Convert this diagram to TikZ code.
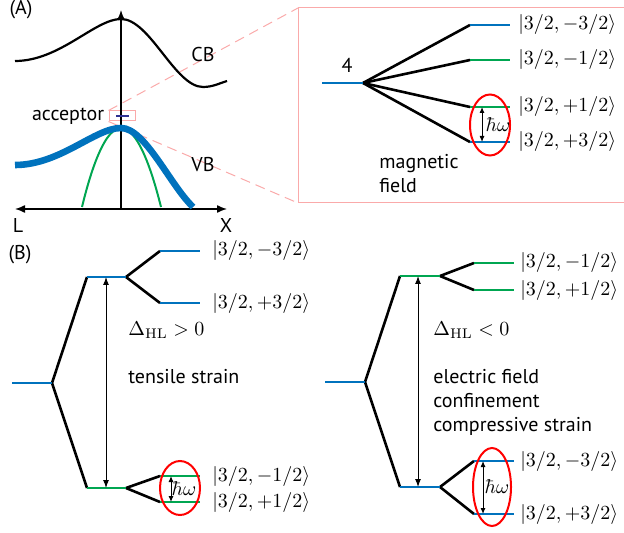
\documentclass[tikz,border=0pt]{standalone}
\usepackage{amsmath}
\usepackage{fontspec}
\newfontfamily\labelfont{PT Sans}
\usetikzlibrary{arrows.meta,positioning}
\definecolor{lhblue}{RGB}{0,114,189}
\definecolor{lhgreen}{RGB}{0,166,81}
\definecolor{zoompink}{RGB}{250,170,170}
\definecolor{accnavy}{RGB}{46,49,146}
\tikzset{
	txt/.style={font=\labelfont, inner sep=1pt},
	ket/.style={inner sep=0pt},
	fan/.style={line width=1.3pt, black},
	lvlb/.style={line width=1.4pt, lhblue},
	lvlg/.style={line width=1.4pt, lhgreen},
	axis/.style={line width=0.7pt},
	gap/.style={{Latex[length=4pt, width=3pt]}-{Latex[length=4pt, width=3pt]}, line width=0.5pt},
	ring/.style={red, line width=1pt},
}

\begin{document}
\begin{tikzpicture}[x=0.5pt, y=-0.5pt]
				\useasboundingbox (0,0) rectangle (624,533);
				% (A) bands
				\node[txt] (la) at (21,10) {(A)};
				\node[draw=zoompink, line width=0.5pt, minimum width=13pt, minimum height=5pt, inner sep=0pt] (acc) at (122,116) {};
				\coordinate (zt) at (298,8);
				\coordinate (zb) at (298,203);
				\draw[zoompink, line width=0.5pt, dash pattern=on 5pt off 3pt]
				(acc.north west) -- (zt)
				(acc.south west) -- (zb);
				\draw[zoompink, line width=0.5pt] (624,8) -- (zt) -- (zb) -- (624,203);
				\coordinate (ol) at (15,209);
				\coordinate (or) at (227,209);
				\coordinate (o) at (121,209);
				\coordinate (ot) at (121,10);
				\draw[axis, {Latex[length=5pt, width=4pt]}-{Latex[length=5pt, width=4pt]}] (ol) -- (or);
				\draw[axis, -{Latex[length=5pt, width=4pt]}] (o) -- (ot);
				\draw[line width=1.1pt] (15,61) .. controls (60,61) and (95,19) .. (121,19)
				.. controls (150,19) and (175,87) .. (203,87) .. controls (213,87) and (220,83) .. (227,81);
				\draw[lhgreen, line width=1pt] (82,207) parabola bend (121,128) (161,207);
				\draw[lhblue, line width=3.3pt] (15,165) .. controls (60,165) and (95,128) .. (121,128)
				.. controls (145,128) and (170,185) .. (193,207);
				\draw[accnavy, line width=1.3pt] ([xshift=-3pt]acc.center) -- ([xshift=3.5pt]acc.center);
				\node[txt, left=1pt of acc] (accl) {acceptor};
				\node[txt] (cb) at (203,55) {CB};
				\node[txt] (vb) at (203,165) {VB};
				\node[txt] (kl) at (18,226) {L};
				\node[txt] (kx) at (226,226) {X};

				% magnetic field splitting
				\coordinate (m0l) at (322,83);
				\coordinate (m0r) at (363,83);
				\foreach \n/\y in {1/25,2/60,3/107,4/142} {
					\coordinate (m\n l) at (470,\y);
					\coordinate (m\n r) at (510,\y);
				}
				\path[fan] (m0r) edge (m1l) edge (m2l) edge (m3l) edge (m4l);
				\draw[lvlb] (m0l) -- (m0r) (m1l) -- (m1r) (m4l) -- (m4r);
				\draw[lvlg] (m2l) -- (m2r) (m3l) -- (m3r);
				\node[txt, above=4pt of m0r, xshift=-8pt] (m4) {4};
				\node[ket, right=4pt of m1r] {$|3/2,-3/2\rangle$};
				\node[ket, right=4pt of m2r] {$|3/2,-1/2\rangle$};
				\node[ket, right=4pt of m3r] {$|3/2,+1/2\rangle$};
				\node[ket, right=4pt of m4r] {$|3/2,+3/2\rangle$};
				\draw[ring] (490,125) ellipse [x radius=20, y radius=30.5];
				\coordinate (mht) at (482,107);
				\coordinate (mhb) at (482,142);
				\draw[gap, {Latex[length=3pt, width=2.5pt]}-{Latex[length=3pt, width=2.5pt]}] (mht) -- (mhb);
				\node[ket] (mhw) at (498,125) {$\hbar\omega$};
				\node[txt, anchor=west, align=left] (mf) at (377,174) {magnetic\\field};

				% (B) tensile
				\node[txt] (lb) at (20,255) {(B)};
				\coordinate (t0l) at (12,383);
				\coordinate (t0r) at (52,383);
				\coordinate (thl) at (87,277);
				\coordinate (thr) at (126,277);
				\coordinate (tll) at (87,488);
				\coordinate (tlr) at (126,488);
				\foreach \n/\y in {1/251,2/303,3/476,4/502} {
					\coordinate (t\n l) at (160,\y);
					\coordinate (t\n r) at (200,\y);
				}
				\path[fan] (t0r) edge (thl) edge (tll)
				(thr) edge (t1l) edge (t2l)
				(tlr) edge (t3l) edge (t4l);
				\draw[lvlb] (t0l) -- (t0r) (thl) -- (thr) (t1l) -- (t1r) (t2l) -- (t2r);
				\draw[lvlg] (tll) -- (tlr) (t3l) -- (t3r) (t4l) -- (t4r);
				\node[ket, right=6pt of t1r] {$|3/2,-3/2\rangle$};
				\node[ket, right=6pt of t2r] {$|3/2,+3/2\rangle$};
				\node[ket, right=6pt of t3r] {$|3/2,-1/2\rangle$};
				\node[ket, right=6pt of t4r] {$|3/2,+1/2\rangle$};
				\coordinate (tgt) at (106,277);
				\coordinate (tgb) at (106,488);
				\draw[gap] (tgt) -- (tgb);
				\node[ket, anchor=west] (td) at (128,330) {$\Delta_{\mathrm{HL}}>0$};
				\node[txt, anchor=west] (ts) at (126,377) {tensile strain};
				\draw[ring] (180,488) ellipse [x radius=20, y radius=27];
				\coordinate (tht) at (171,476);
				\coordinate (thb) at (171,502);
				\draw[gap, {Latex[length=3pt, width=2.5pt]}-{Latex[length=3pt, width=2.5pt]}] (tht) -- (thb);
				\node[ket] (thw) at (184,489) {$\hbar\omega$};

				% (B) compressive
				\coordinate (c0l) at (325,382);
				\coordinate (c0r) at (365,382);
				\coordinate (chl) at (400,276);
				\coordinate (chr) at (440,276);
				\coordinate (cll) at (400,487);
				\coordinate (clr) at (440,487);
				\foreach \n/\y in {1/263,2/290,3/461,4/514} {
					\coordinate (c\n l) at (474,\y);
					\coordinate (c\n r) at (514,\y);
				}
				\path[fan] (c0r) edge (chl) edge (cll)
				(chr) edge (c1l) edge (c2l)
				(clr) edge (c3l) edge (c4l);
				\draw[lvlb] (c0l) -- (c0r) (cll) -- (clr) (c3l) -- (c3r) (c4l) -- (c4r);
				\draw[lvlg] (chl) -- (chr) (c1l) -- (c1r) (c2l) -- (c2r);
				\node[ket, right=3pt of c1r] {$|3/2,-1/2\rangle$};
				\node[ket, right=3pt of c2r] {$|3/2,+1/2\rangle$};
				\node[ket, right=3pt of c3r] {$|3/2,-3/2\rangle$};
				\node[ket, right=3pt of c4r] {$|3/2,+3/2\rangle$};
				\coordinate (cgt) at (418,276);
				\coordinate (cgb) at (418,487);
				\draw[gap] (cgt) -- (cgb);
				\node[ket, anchor=west] (cd) at (433,330) {$\Delta_{\mathrm{HL}}<0$};
				\node[txt, anchor=west, align=left] (cs) at (431,402) {electric field\\confinement\\compressive strain};
				\draw[ring] (492,487) ellipse [x radius=19, y radius=39];
				\coordinate (cht) at (483,461);
				\coordinate (chb) at (483,514);
				\draw[gap, {Latex[length=3pt, width=2.5pt]}-{Latex[length=3pt, width=2.5pt]}] (cht) -- (chb);
				\node[ket] (chw) at (497,487) {$\hbar\omega$};
\end{tikzpicture}
\end{document}
